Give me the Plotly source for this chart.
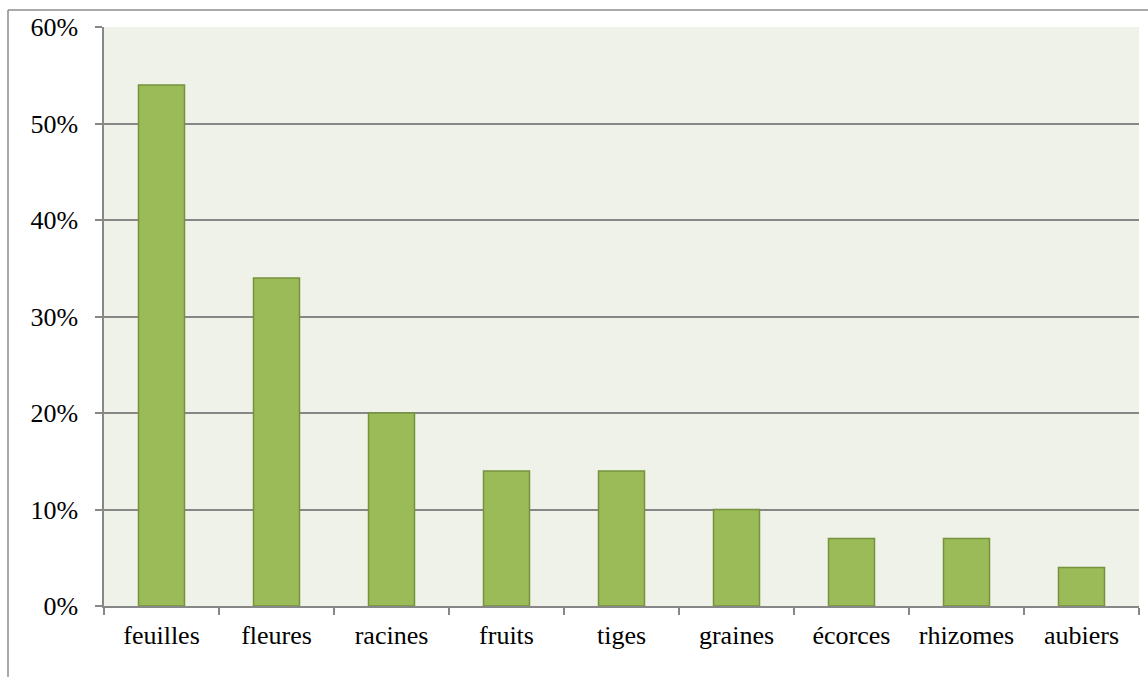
import plotly.graph_objects as go

# Parties de plante utilisées (part des recettes, en %)
categories = ["feuilles", "fleures", "racines", "fruits", "tiges",
              "graines", "écorces", "rhizomes", "aubiers"]
values = [54, 34, 20, 14, 14, 10, 7, 7, 4]
y_ticks = [0, 10, 20, 30, 40, 50, 60]
y_tick_labels = [f"{v}%" for v in y_ticks]

W, H = 1148, 677
L, R, T, B = 104, 9, 27, 71
pw, ph = W - L - R, H - T - B

grid = "#878787"
font = dict(family="Liberation Serif, Times New Roman, serif", size=26, color="#000000")

fig = go.Figure(go.Bar(
    x=categories,
    y=values,
    width=0.4,
    marker=dict(color="#9BBB59", line=dict(color="#76923C", width=1.5)),
    hoverinfo="x+y",
))

fig.update_layout(
    width=W, height=H,
    margin=dict(l=L, r=R, t=T, b=B, pad=0),
    paper_bgcolor="#FFFFFF",
    plot_bgcolor="#EFF2E9",
    showlegend=False,
    font=font,
    xaxis=dict(
        type="category",
        showgrid=False,
        showline=True, linecolor=grid, linewidth=1.5,
        ticks="outside", tickson="boundaries", ticklen=7,
        tickcolor=grid, tickwidth=1.5,
        ticklabelstandoff=5,
        tickfont=font,
    ),
    yaxis=dict(
        range=[0, 60],
        tickvals=y_ticks, ticktext=y_tick_labels,
        showgrid=True, gridcolor=grid, gridwidth=1.5,
        showline=True, linecolor=grid, linewidth=1.5,
        ticks="outside", ticklen=7, tickcolor=grid, tickwidth=1.5,
        ticklabelstandoff=12,
        zeroline=False,
        tickfont=font,
    ),
)

# Cadre extérieur du graphique (bords haut et gauche)
x_left = (8 - L) / pw
y_top = 1 + (T - 10) / ph
y_bottom = -B / ph
x_right = 1 + R / pw
fig.add_shape(type="line", xref="paper", yref="paper",
              x0=x_left, x1=x_right, y0=y_top, y1=y_top,
              line=dict(color="#8C8C8C", width=1.5))
fig.add_shape(type="line", xref="paper", yref="paper",
              x0=x_left, x1=x_left, y0=y_top, y1=y_bottom,
              line=dict(color="#8C8C8C", width=1.5))

fig.write_html("out.html")
